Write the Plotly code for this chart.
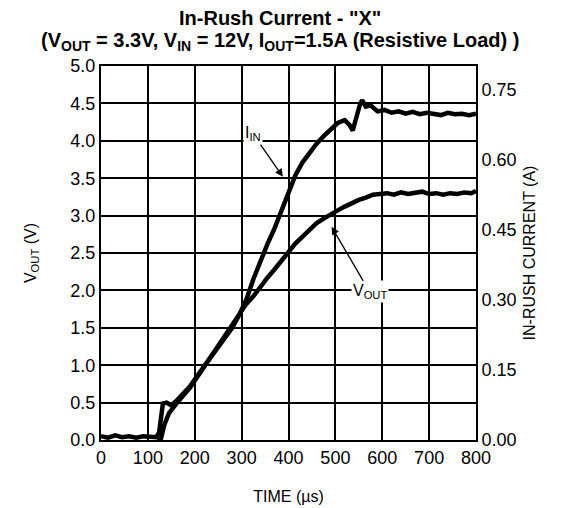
import plotly.graph_objects as go

t_vout = [0, 15, 30, 45, 60, 75, 90, 105, 120, 128, 135, 145, 160, 175, 190, 205, 220, 235, 250,
          265, 280, 295, 310, 325, 340, 355, 370, 385, 400, 415, 430, 445, 460, 475, 490, 505,
          520, 535, 550, 565, 580, 595, 610, 625, 640, 655, 670, 685, 700, 715, 730, 745, 760,
          775, 790, 800]
vout = [-0.04, -0.06, -0.03, -0.05, -0.04, -0.06, -0.04, -0.05, -0.04, 0.02, 0.20, 0.36, 0.48,
        0.58, 0.70, 0.84, 0.98, 1.12, 1.26, 1.38, 1.52, 1.66, 1.82, 1.92, 2.05, 2.17, 2.28,
        2.40, 2.52, 2.63, 2.72, 2.82, 2.90, 2.96, 3.02, 3.07, 3.12, 3.17, 3.21, 3.24, 3.28,
        3.29, 3.30, 3.28, 3.31, 3.29, 3.30, 3.32, 3.29, 3.30, 3.28, 3.30, 3.29, 3.31, 3.30, 3.33]

t_iin = [0, 15, 30, 45, 60, 75, 90, 105, 118, 124, 128, 132, 140, 150, 160, 175, 190, 205, 220,
         235, 250, 265, 280, 295, 310, 325, 340, 355, 370, 385, 400, 415, 430, 445, 460, 475,
         490, 505, 520, 530, 537, 545, 552, 557, 565, 575, 590, 605, 620, 635, 650, 665, 680,
         695, 710, 725, 740, 755, 770, 785, 800]
iin = [0.008, 0.005, 0.010, 0.006, 0.008, 0.005, 0.008, 0.006, 0.006, 0.016, 0.056, 0.078,
       0.080, 0.074, 0.083, 0.099, 0.115, 0.137, 0.158, 0.179, 0.198, 0.217, 0.240, 0.268,
       0.300, 0.344, 0.384, 0.419, 0.452, 0.492, 0.532, 0.567, 0.594, 0.615, 0.634, 0.650,
       0.665, 0.678, 0.684, 0.674, 0.662, 0.695, 0.716, 0.727, 0.713, 0.716, 0.703, 0.706,
       0.700, 0.703, 0.698, 0.702, 0.697, 0.700, 0.698, 0.695, 0.700, 0.697, 0.698, 0.695, 0.698]

x_ticks = [0, 100, 200, 300, 400, 500, 600, 700, 800]
y_ticks = [0.0, 0.5, 1.0, 1.5, 2.0, 2.5, 3.0, 3.5, 4.0, 4.5, 5.0]
y2_ticks = [0.00, 0.15, 0.30, 0.45, 0.60, 0.75]

title_line1 = '<b>In-Rush Current - "X"</b>'
title_line2 = ('<b>(V<sub>OUT</sub> = 3.3V, V<sub>IN</sub> = 12V, I<sub>OUT</sub>=1.5A '
               '(Resistive Load) )</b>')

FONT = "Liberation Sans, Arial, sans-serif"

fig = go.Figure()
fig.add_trace(go.Scatter(x=t_vout, y=vout, mode="lines", line=dict(color="black", width=4.5),
                         showlegend=False, yaxis="y"))
fig.add_trace(go.Scatter(x=t_iin, y=iin, mode="lines", line=dict(color="black", width=4.5),
                         showlegend=False, yaxis="y2"))

fig.add_annotation(x=388, y=3.52, xref="x", yref="y", text="I<sub>IN</sub>", showarrow=True,
                   ax=-30, ay=-43, arrowhead=2, arrowsize=1.2, arrowwidth=1.3, arrowcolor="black",
                   bgcolor="white", font=dict(family=FONT, size=16, color="black"))
fig.add_annotation(x=492, y=2.85, xref="x", yref="y", text="V<sub>OUT</sub>", showarrow=True,
                   ax=38, ay=65, arrowhead=2, arrowsize=1.2, arrowwidth=1.3, arrowcolor="black",
                   bgcolor="white", font=dict(family=FONT, size=16, color="black"))

fig.add_annotation(x=0.477, y=1.128, xref="paper", yref="paper", text=title_line1,
                   showarrow=False, xanchor="center", yanchor="middle",
                   font=dict(family=FONT, size=20, color="black"))
fig.add_annotation(x=0.477, y=1.066, xref="paper", yref="paper", text=title_line2,
                   showarrow=False, xanchor="center", yanchor="middle",
                   font=dict(family=FONT, size=20, color="black"))

axis_common = dict(showline=True, linecolor="black", linewidth=2, mirror=True, automargin=False,
                   ticks="", tickfont=dict(family=FONT, size=18, color="black"), zeroline=False)

fig.update_layout(
    width=569, height=508,
    margin=dict(l=93, r=101, t=58, b=76),
    paper_bgcolor="white", plot_bgcolor="white",
    font=dict(family=FONT, color="black"),
    xaxis=dict(range=[0, 800], tickvals=x_ticks, showgrid=True, gridcolor="black", gridwidth=1.5,
               title=dict(text="TIME (µs)", font=dict(family=FONT, size=16), standoff=24),
               **axis_common),
    yaxis=dict(range=[0, 5.0], tickvals=y_ticks, tickformat=".1f", showgrid=True,
               gridcolor="black", gridwidth=1.5,
               title=dict(text="V<sub>OUT</sub> (V)", font=dict(family=FONT, size=16), standoff=30),
               **axis_common),
    yaxis2=dict(range=[0, 0.80], tickvals=y2_ticks, tickformat=".2f", overlaying="y", side="right",
                showgrid=False,
                title=dict(text="IN-RUSH CURRENT (A)", font=dict(family=FONT, size=16), standoff=8),
                **axis_common),
)

fig.write_html("out.html")
